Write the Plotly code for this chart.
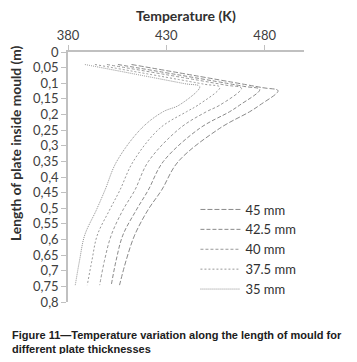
import plotly.graph_objects as go

# ---- data ----
series_names = ["45 mm", "42.5 mm", "40 mm", "37.5 mm", "35 mm"]

# Temperature (K) along each curve, and the matching depth (m)
temp_45 = [412.3, 478.8, 486.8, 477.5, 472.4, 457.2, 436.0, 427.6, 420.6, 413.9, 409.6, 406.2]
depth_45 = [0.040, 0.114, 0.124, 0.170, 0.191, 0.244, 0.351, 0.442, 0.506, 0.586, 0.666, 0.746]

temp_425 = [405.4, 469.5, 477.5, 467.3, 462.2, 447.0, 428.4, 420.8, 414.7, 407.9, 404.5, 402.0]
depth_425 = [0.040, 0.110, 0.120, 0.170, 0.191, 0.244, 0.351, 0.442, 0.506, 0.586, 0.666, 0.746]

temp_40 = [399.8, 460.2, 468.2, 457.2, 450.4, 436.9, 420.8, 414.0, 407.9, 402.0, 398.6, 396.1]
depth_40 = [0.040, 0.106, 0.116, 0.170, 0.191, 0.244, 0.351, 0.442, 0.506, 0.586, 0.666, 0.746]

temp_375 = [393.7, 449.2, 457.2, 446.1, 440.3, 426.7, 413.1, 406.4, 401.1, 394.9, 392.2, 389.8]
depth_375 = [0.040, 0.103, 0.113, 0.170, 0.191, 0.244, 0.351, 0.442, 0.506, 0.586, 0.666, 0.746]

temp_35 = [388.6, 439.0, 447.0, 436.5, 428.4, 417.4, 404.7, 398.8, 394.4, 388.5, 385.9, 383.7]
depth_35 = [0.040, 0.101, 0.111, 0.170, 0.191, 0.244, 0.351, 0.442, 0.506, 0.586, 0.666, 0.746]

x_tickvals = [380, 430, 480]
x_ticktext = ["380", "430", "480"]
y_tickvals = [0, 0.05, 0.1, 0.15, 0.2, 0.25, 0.3, 0.35, 0.4, 0.45, 0.5, 0.55, 0.6, 0.65, 0.7, 0.75, 0.8]
y_ticktext = ["0", "0,05", "0,1", "0,15", "0,2", "0,25", "0,3", "0,35", "0,4", "0,45",
              "0,5", "0,55", "0,6", "0,65", "0,7", "0,75", "0,8"]

caption_line1 = "Figure 11\u2014Temperature variation along the length of mould for"
caption_line2 = "different plate thicknesses"

# ---- styles ----
temps = [temp_45, temp_425, temp_40, temp_375, temp_35]
depths = [depth_45, depth_425, depth_40, depth_375, depth_35]
dashes = ["5px,2px", "4px,2px", "3px,2px", "2px,2px", "1px,1px"]
colors = ["#8a8a8a", "#8a8a8a", "#999999", "#999999", "#8f8f8f"]

fig = go.Figure()
for name, t, d, dash, col in zip(series_names, temps, depths, dashes, colors):
    fig.add_trace(go.Scatter(
        x=t, y=d, name=name, mode="lines",
        line=dict(color=col, width=1, dash=dash, shape="spline", smoothing=1.0),
    ))

axis_col = "#c0c0c0"
font_fam = "Lato, 'Open Sans', sans-serif"
tick_font = dict(family=font_fam, size=13, color="#404040")

fig.update_layout(
    width=341, height=346,
    margin=dict(l=60, r=45, t=44, b=52),
    paper_bgcolor="white", plot_bgcolor="white",
    showlegend=True,
    legend=dict(
        x=0.54, y=0.43, xanchor="left", yanchor="top",
        font=dict(family=font_fam, size=13, color="#303030"),
        bgcolor="rgba(0,0,0,0)", tracegroupgap=0, itemwidth=40,
    ),
    xaxis=dict(
        side="top", range=[380, 500], tickvals=x_tickvals, ticktext=x_ticktext,
        showgrid=False, zeroline=False, showline=True, linecolor=axis_col, linewidth=1.5,
        ticks="outside", ticklen=5, tickcolor=axis_col, tickfont=tick_font,
    ),
    yaxis=dict(
        range=[0.8, 0], tickvals=y_tickvals, ticktext=y_ticktext,
        showgrid=False, zeroline=False, showline=True, linecolor=axis_col, linewidth=1.5,
        ticks="outside", ticklen=5, tickcolor=axis_col, tickfont=tick_font,
    ),
    annotations=[
        dict(text="<b>Temperature (K)</b>", xref="paper", yref="paper", x=0.5, y=1.148,
             xanchor="center", yanchor="middle", showarrow=False,
             font=dict(family=font_fam, size=14, color="#303030")),
        dict(text="<b>Length of plate inside mould (m)</b>", xref="paper", yref="paper",
             x=-0.2246, y=0.636, xanchor="center", yanchor="middle", textangle=-90,
             showarrow=False,
             font=dict(family=font_fam, size=13.8, color="#303030")),
        dict(text="<b>" + caption_line1 + "</b><br><b>" + caption_line2 + "</b>",
             xref="paper", yref="paper",
             x=-0.2458, y=-0.16, xanchor="left", yanchor="middle", align="left",
             showarrow=False,
             font=dict(family="'Liberation Sans', Arial, sans-serif", size=11, color="#202020")),
    ],
)

fig.write_html("out.html")
